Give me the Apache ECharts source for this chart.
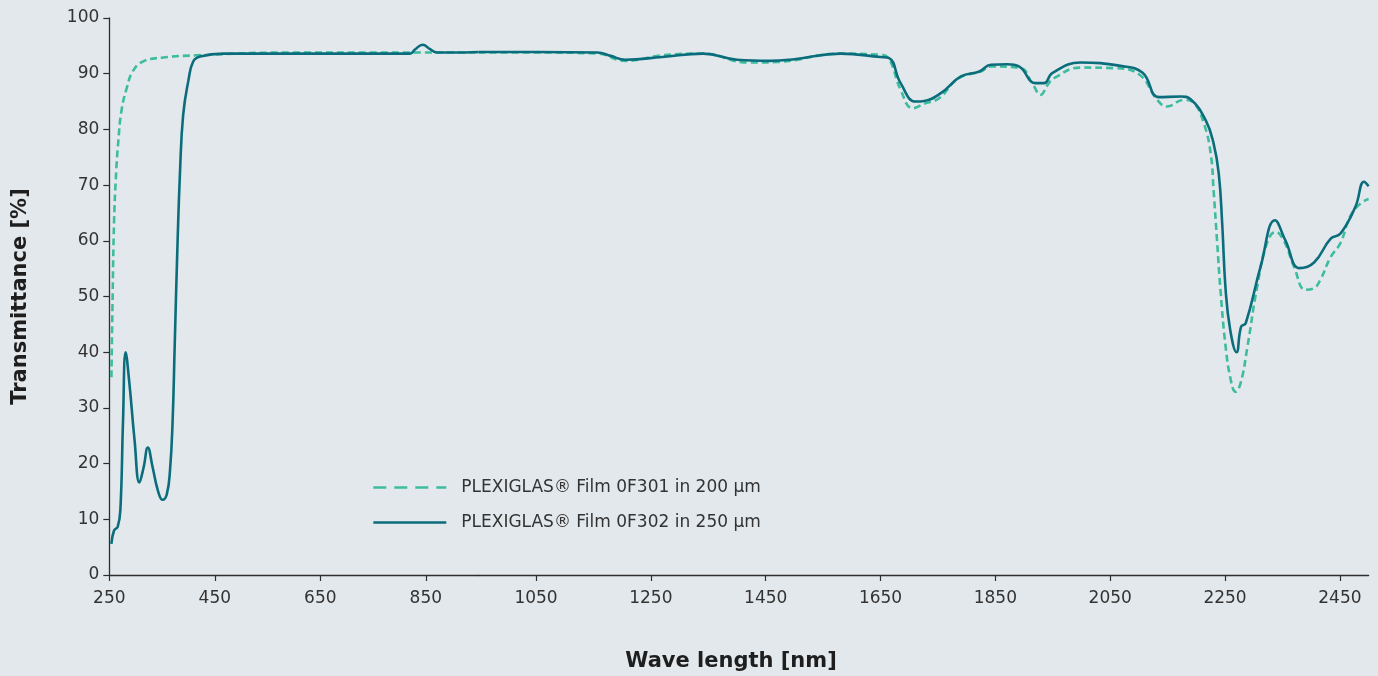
<!DOCTYPE html>
<html>
<head>
<meta charset="utf-8">
<script src="https://cdn.jsdelivr.net/npm/echarts@6/dist/echarts.min.js"></script>
<style>
html,body{margin:0;padding:0;background:#e3e8ec;}
#chart{width:1378px;height:676px;}
</style>
</head>
<body>
<div id="chart"></div>
<script>
// ---- Data ----
const nameA = 'PLEXIGLAS® Film 0F301 in 200 µm';
const nameB = 'PLEXIGLAS® Film 0F302 in 250 µm';

const wlA = [254,256,259,263,267,273,283,295,314,352,416,592,782,950,1050,1157,1205,1270,1341,1420,
  1470,1580,1650,1665,1685,1706,1726,1752,1786,1825,1842,1894,1914,1929,1941,1952,1999,2057,2100,2132,
  2149,2178,2196,2213,2225,2230,2236,2242,2251,2260,2268,2277,2289,2306,2323,2338,2352,2370,2390,2405,
  2416,2434,2451,2468,2486,2500];
const valA = [35.5,48.2,63.4,72.3,77.8,83.3,87.4,90.5,92.2,92.9,93.3,93.8,93.8,93.8,93.8,93.6,92.3,93.3,93.6,92.0,
  92.1,93.6,93.4,92.6,87.1,83.8,84.6,85.6,89.2,90.4,91.3,91.0,88.3,86.2,88.0,89.2,91.1,91.0,89.9,85.3,
  84.1,85.3,84.7,81.1,75.7,69.1,60.1,51.2,41.0,35.0,32.9,34.4,41.0,51.8,59.6,61.6,60.1,55.4,51.2,51.5,
  53.0,57.1,59.6,64.4,66.7,67.5];

const wlB = [254,259,266,271,276,281,288,298,307,315,323,332,342,351,359,365,370,374,379,384,
  390,400,409,422,466,655,820,830,844,858,871,900,950,1050,1157,1180,1205,1270,1341,1400,
  1457,1500,1580,1650,1665,1685,1711,1726,1755,1790,1822,1842,1871,1891,1920,1935,1949,1998,2068,2106,
  2135,2173,2190,2216,2230,2239,2245,2251,2259,2270,2278,2286,2312,2337,2355,2380,2405,2434,2451,2477,
  2492,2500];
const valB = [5.6,8.0,8.7,11.7,27.6,40.0,34.5,24.1,16.6,19.3,22.9,19.4,15.2,13.5,14.5,18.7,27.6,41.3,58.5,72.3,
  82.6,88.8,92.2,93.1,93.6,93.6,93.6,94.4,95.2,94.4,93.8,93.8,93.9,93.9,93.8,93.2,92.5,93.0,93.6,92.5,
  92.3,92.6,93.6,93.0,92.8,88.3,85.0,85.1,86.5,89.5,90.4,91.6,91.7,91.3,88.3,88.3,90.1,92.0,91.4,90.2,
  85.8,85.9,85.4,81.7,77.5,72.1,63.1,51.2,44.0,40.0,44.6,45.2,55.4,63.7,60.1,55.1,56.1,60.4,61.3,66.1,
  70.6,69.8];

const xTicksLeft = [250,450,650,850];
const xTicksRight = [1050,1250,1450,1650,1850,2050,2250,2450];
const xBreak = 950; // the original axis changes scale here
const xMin = 250, xMax = 2500;

// ---- Build ----
function part(wl, val, lo, hi){
  const out = [];
  for (let i = 0; i < wl.length; i++) if (wl[i] >= lo && wl[i] <= hi) out.push([wl[i], val[i]]);
  return out;
}
const txt = '#333';
const FONT = 'DejaVu Sans';
const colA = '#3dbd9d', colB = '#0b6d7c';
const axisLine = {show:true, lineStyle:{color:'#2e2e2e', width:1.3}};

const chart = echarts.init(document.getElementById('chart'), null, {renderer:'canvas'});
const baseX = (gi, lo, hi, ticks) => ({
  type:'value', gridIndex:gi, min:lo, max:hi,
  axisLine: axisLine,
  axisTick:{show:true, length:6, lineStyle:{color:'#2e2e2e', width:1.2}, customValues: ticks},
  axisLabel:{color:txt, fontFamily:FONT, fontSize:17, margin:15, customValues: ticks,
    formatter: v => String(v)},
  splitLine:{show:false}
});
const lineA = {color:colA, width:2.6, type:[7,4]};
const lineB = {color:colB, width:2.6};
const common = {type:'line', showSymbol:false, symbol:'none', smooth:0.45, animation:false};

chart.setOption({
  backgroundColor:'#e3e8ec',
  animation:false,
  textStyle:{fontFamily:FONT},
  grid:[
    {left:109.3, top:18, width:369.3, height:557, containLabel:false},
    {left:478.6, top:18, width:890, height:557, containLabel:false}
  ],
  xAxis:[ baseX(0, xMin, xBreak, xTicksLeft), baseX(1, xBreak, xMax, xTicksRight) ],
  yAxis:[
    {type:'value', gridIndex:0, min:0, max:100, interval:10,
     axisLine:axisLine,
     axisTick:{show:true, length:6, lineStyle:{color:'#2e2e2e', width:1.2}},
     axisLabel:{color:txt, fontFamily:FONT, fontSize:17, margin:10},
     splitLine:{show:false},
     name:'Transmittance [%]', nameLocation:'middle', nameGap:78,
     nameTextStyle:{color:'#1e1e1e', fontFamily:FONT, fontWeight:'bold', fontSize:21}},
    {type:'value', gridIndex:1, min:0, max:100, show:false, splitLine:{show:false}}
  ],
  legend:{
    orient:'vertical', left:372, top:479, padding:0,
    itemWidth:73, itemHeight:14, itemGap:18,
    itemStyle:{opacity:0},
    textStyle:{color:txt, fontFamily:FONT, fontSize:17, padding:[0,0,0,10]},
    data:[
      {name:nameA, lineStyle:{type:[13,8], width:2.6, color:colA}, itemStyle:{opacity:0}},
      {name:nameB, lineStyle:{type:'solid', width:2.6, color:colB}, itemStyle:{opacity:0}}
    ]
  },
  graphic:[
    {type:'text', x:731, y:662, style:{text:'Wave length [nm]', fill:'#1e1e1e',
      font:'bold 21px "DejaVu Sans"', textAlign:'center', textVerticalAlign:'middle'}}
  ],
  series:[
    Object.assign({}, common, {name:nameA, xAxisIndex:0, yAxisIndex:0, data:part(wlA, valA, xMin, xBreak), lineStyle:lineA, itemStyle:{color:colA}}),
    Object.assign({}, common, {name:nameA, xAxisIndex:1, yAxisIndex:1, data:part(wlA, valA, xBreak, xMax), lineStyle:lineA, itemStyle:{color:colA}}),
    Object.assign({}, common, {name:nameB, xAxisIndex:0, yAxisIndex:0, data:part(wlB, valB, xMin, xBreak), lineStyle:lineB, itemStyle:{color:colB}}),
    Object.assign({}, common, {name:nameB, xAxisIndex:1, yAxisIndex:1, data:part(wlB, valB, xBreak, xMax), lineStyle:lineB, itemStyle:{color:colB}})
  ]
});
</script>
</body>
</html>
